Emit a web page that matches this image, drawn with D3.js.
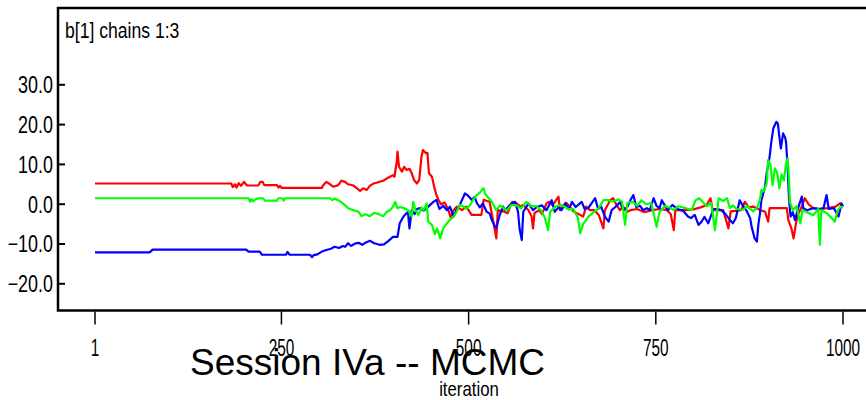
<!DOCTYPE html>
<html>
<head>
<meta charset="utf-8">
<script src="https://cdn.jsdelivr.net/npm/d3@7"></script>
<style>
  html, body { margin: 0; padding: 0; background: #fff; }
  svg { display: block; }
</style>
</head>
<body>
<svg id="chart" width="866" height="400"></svg>
<script>
// Trace of b[1] for three MCMC chains: [iteration, value]
const chain1 = [[1,5.2],[183,5.2],[185,4.3],[188,5.0],[190,4.2],[193,5.3],[196,4.6],[200,5.6],[204,4.7],[219,4.7],[222,5.6],[225,5.6],[227,4.8],[244,4.8],[246,4.2],[248,4.6],[250,4.1],[304,4.1],[306,4.8],[310,5.6],[315,5.0],[319,4.4],[326,4.8],[330,5.9],[335,5.6],[339,5.0],[346,4.7],[351,4.0],[355,3.3],[359,4.0],[364,3.6],[368,4.6],[373,5.2],[377,5.4],[382,5.7],[386,5.9],[391,6.5],[395,6.9],[399,7.3],[401,6.9],[404,10.7],[405,13.2],[407,9.4],[411,8.2],[414,9.4],[417,8.6],[421,8.9],[424,7.8],[427,6.1],[431,5.2],[434,6.1],[437,11.9],[439,13.6],[443,12.8],[445,12.9],[447,7.8],[451,6.9],[454,4.4],[457,2.3],[460,1.0],[463,0.0],[468,0.4],[473,-1.5],[476,-3.3],[480,-1.5],[484,-0.6],[491,-1.5],[497,-0.6],[504,-2.7],[517,-2.7],[520,1.1],[528,0.6],[535,-6.5],[537,-8.6],[539,-1.5],[546,-1.8],[552,-2.3],[558,0.6],[564,0.2],[569,-0.6],[573,-0.2],[580,-1.5],[584,-3.0],[586,-6.1],[588,-2.2],[594,-1.5],[598,-2.5],[604,0.2],[608,0.6],[612,-0.3],[620,1.9],[622,-1.5],[626,-0.6],[630,0.4],[635,-0.6],[640,-1.8],[645,-2.3],[653,-3.1],[657,-0.6],[662,-1.5],[668,-1.5],[674,-2.8],[680,-6.1],[682,-1.5],[689,1.0],[693,1.5],[697,0.0],[702,-1.5],[706,-0.6],[712,-1.9],[716,-1.5],[725,-1.2],[735,-2.0],[745,-1.5],[755,-1.2],[765,-1.5],[770,-2.5],[774,-6.5],[776,-1.5],[790,-1.5],[800,-1.3],[810,-0.8],[818,-0.2],[823,1.5],[826,-1.5],[840,-1.5],[843,-3.5],[847,-6.1],[850,-1.8],[864,-1.5],[869,0.6],[874,-0.8],[880,-0.6],[890,-1.5],[896,-1.9],[900,-4.4],[902,-1.0],[925,-1.0],[927,-4.0],[931,-6.0],[934,-8.6],[937,-5.0],[940,-2.5],[944,-1.0],[949,1.5],[954,0.0],[960,-1.0],[970,-1.2],[980,-1.0],[990,-0.6],[996,0.2],[1000,-0.5]];

const chain2 = [[1,-12.1],[74,-12.1],[78,-11.4],[203,-11.4],[206,-11.9],[221,-11.9],[224,-12.7],[256,-12.7],[258,-12.0],[261,-12.7],[288,-12.7],[291,-13.3],[293,-12.8],[298,-12.6],[304,-11.9],[310,-11.5],[316,-11.2],[321,-10.7],[327,-11.0],[332,-10.5],[335,-10.7],[339,-9.8],[343,-10.5],[348,-9.9],[353,-9.7],[358,-10.2],[363,-9.6],[368,-9.2],[374,-9.8],[381,-10.2],[387,-10.1],[393,-9.2],[399,-8.2],[405,-8.2],[408,-4.8],[413,-3.1],[417,-2.3],[419,-2.0],[421,-6.1],[424,-1.5],[428,-2.5],[431,-1.2],[435,-1.0],[440,-1.6],[446,-0.6],[453,0.6],[457,1.1],[461,-1.2],[466,-0.4],[471,-1.5],[475,-0.6],[480,-3.1],[484,-1.4],[488,-0.3],[495,2.7],[499,2.2],[504,1.1],[508,1.8],[511,0.3],[515,-0.8],[519,0.2],[524,-1.9],[528,-2.3],[531,-4.0],[535,-5.5],[537,-6.0],[541,-3.0],[546,-0.6],[549,-1.5],[555,-0.2],[562,0.6],[566,-1.9],[568,-6.1],[571,-9.0],[573,-1.9],[580,0.2],[586,-1.5],[591,-0.7],[598,-0.3],[604,-1.5],[611,1.0],[615,-1.9],[620,-0.8],[624,-1.5],[629,0.2],[634,-1.3],[638,0.6],[643,-0.7],[651,0.6],[655,-1.2],[660,-0.9],[669,1.5],[673,-1.2],[677,-0.6],[682,-3.1],[687,-4.4],[691,-1.5],[696,-0.7],[702,0.5],[707,-1.5],[712,-0.7],[716,1.0],[720,2.3],[724,-0.7],[729,-0.4],[733,-1.5],[738,-1.0],[742,-1.5],[747,1.5],[751,-0.4],[755,-1.0],[758,1.0],[762,-0.3],[766,-1.5],[772,-0.2],[780,-1.3],[786,-1.6],[793,-3.1],[797,-3.5],[802,-2.7],[807,-5.2],[811,-4.4],[815,-3.2],[820,-4.8],[827,-1.2],[833,-1.2],[838,-1.6],[843,-2.5],[849,-4.0],[853,-4.8],[857,-3.4],[862,1.0],[866,-0.3],[871,-1.6],[876,-3.5],[878,-5.7],[882,-8.6],[885,-9.4],[887,-5.0],[889,-2.5],[891,1.0],[896,4.4],[898,7.8],[902,11.9],[904,15.3],[907,19.1],[911,20.7],[913,20.3],[915,17.0],[917,14.0],[920,17.8],[923,16.6],[924,15.5],[926,9.4],[928,1.0],[930,-3.1],[933,-2.0],[936,-4.0],[940,-1.0],[945,1.9],[947,-1.0],[952,-1.5],[960,-1.0],[968,-1.2],[974,-1.0],[978,2.3],[981,-1.2],[988,-1.0],[994,-3.1],[998,0.2],[1000,-0.6]];

const chain3 = [[1,1.5],[206,1.5],[208,0.6],[210,1.3],[212,0.7],[215,1.2],[219,1.5],[225,1.5],[228,0.9],[244,0.9],[246,1.5],[251,1.5],[253,0.9],[255,1.5],[315,1.5],[318,1.0],[321,1.4],[326,1.0],[332,0.2],[339,-1.0],[346,-1.5],[353,-1.9],[357,-3.0],[362,-2.5],[368,-3.0],[374,-2.2],[380,-2.5],[386,-3.0],[391,-1.9],[395,-1.5],[399,-0.6],[402,0.6],[405,-1.0],[408,-0.7],[414,-1.0],[419,-1.5],[424,-3.1],[426,0.6],[429,-1.5],[433,-2.7],[437,-0.8],[440,-1.5],[444,0.2],[446,-4.4],[451,-5.2],[455,-7.5],[458,-6.1],[462,-8.6],[466,-6.1],[471,-4.8],[475,-3.9],[480,-3.1],[484,-1.9],[488,-0.2],[493,-0.6],[497,-1.2],[502,-0.2],[507,1.4],[511,2.3],[515,2.9],[518,3.6],[520,4.0],[522,2.6],[526,1.7],[531,0.6],[537,-1.5],[542,-0.3],[551,-1.6],[557,-0.2],[564,-0.3],[570,-1.1],[577,0.6],[584,-0.5],[591,-0.5],[597,-1.6],[602,-3.5],[606,-6.5],[609,-1.8],[617,-0.5],[624,-0.2],[633,-1.2],[640,-1.2],[646,-3.5],[649,-7.3],[653,-5.0],[660,-3.1],[667,-2.0],[673,-1.2],[680,1.0],[687,1.0],[693,0.6],[700,1.2],[705,0.6],[709,-5.2],[712,0.3],[719,0.6],[725,-0.4],[731,1.0],[737,0.0],[744,0.3],[751,-5.7],[755,-1.9],[762,-0.5],[768,-0.8],[774,-1.5],[780,-0.5],[790,-1.0],[798,-1.5],[803,1.0],[808,1.5],[813,0.5],[818,-0.5],[824,0.3],[829,-6.5],[834,1.5],[840,0.8],[845,1.5],[849,-1.0],[853,-0.3],[858,-1.2],[866,-1.4],[872,-0.5],[880,-1.8],[885,-1.0],[889,1.0],[891,3.6],[894,3.2],[898,5.2],[900,11.1],[903,10.0],[906,4.8],[909,9.0],[912,8.0],[915,4.0],[918,7.5],[921,6.0],[924,10.3],[926,11.5],[928,6.0],[929,0.6],[933,-1.5],[938,-0.5],[943,-4.8],[946,-1.5],[952,-2.0],[960,-2.8],[967,-1.2],[969,-10.2],[971,-1.5],[978,-2.2],[985,-3.5],[989,-4.4],[993,-1.5],[997,-0.6],[1000,-0.8]];

const chainColors = ["#ff0000", "#0000ff", "#00ff00"];
const xTicks = [1, 250, 500, 750, 1000];
const yTicks = [-20, -10, 0, 10, 20, 30];
const plotTitle = "b[1] chains 1:3";
const xLabel = "iteration";
const slideTitle = "Session IVa -- MCMC";

const svg = d3.select("#chart");
const W = 866;
const FONT = "Liberation Sans, Arial, sans-serif";

// Condensed text: draw at (tx, ty) and squeeze horizontally by sx
function condensed(parent, tx, ty, str, size, sx, anchor) {
  return parent.append("g")
    .attr("transform", `translate(${tx},${ty}) scale(${sx},1)`)
    .append("text")
    .attr("font-family", FONT)
    .attr("font-size", size)
    .attr("text-anchor", anchor || "start")
    .text(str);
}

// Frame and scales
const frame = { left: 58, top: 8, bottom: 310.5 };
const x = d3.scaleLinear().domain([1, 1000]).range([95, 843]);
const y = d3.scaleLinear().domain([-20, 30]).range([283.8, 84.8]);

// Axes frame: left, top and bottom rules (open on the right)
svg.append("path")
  .attr("d", `M${W + 5},${frame.top} H${frame.left} V${frame.bottom} H${W + 5}`)
  .attr("fill", "none").attr("stroke", "#000").attr("stroke-width", 2.5);

// Chain traces
const line = d3.line().x(d => x(d[0])).y(d => y(d[1]));
[chain1, chain2, chain3].forEach((c, i) => {
  svg.append("path")
    .datum(c)
    .attr("d", line)
    .attr("fill", "none")
    .attr("stroke", chainColors[i])
    .attr("stroke-width", 2.2)
    .attr("stroke-linejoin", "round");
});

// Y axis ticks (pointing inward) and labels
const yAxis = svg.append("g");
yAxis.selectAll("line").data(yTicks).join("line")
  .attr("x1", frame.left).attr("x2", frame.left + 7)
  .attr("y1", d => y(d)).attr("y2", d => y(d))
  .attr("stroke", "#000").attr("stroke-width", 2);
yTicks.forEach(d => condensed(yAxis, frame.left - 5, y(d) + 8.3, d3.format(".1f")(d), 23, 0.78, "end"));

// X axis ticks (below the frame) and labels
const xAxis = svg.append("g");
xAxis.selectAll("line").data(xTicks).join("line")
  .attr("x1", d => x(d)).attr("x2", d => x(d))
  .attr("y1", frame.bottom + 1).attr("y2", frame.bottom + 14)
  .attr("stroke", "#000").attr("stroke-width", 1.5);
xTicks.forEach(d => condensed(xAxis, x(d), 356, String(d), 24, 0.64, "middle"));

// Plot title inside the frame
condensed(svg, 65, 38, plotTitle, 22, 0.8);

// Axis label
condensed(svg, (x(1) + x(1000)) / 2, 396, xLabel, 20, 0.84, "middle");

// Slide heading overlaid at the bottom
svg.append("text")
  .attr("x", 190).attr("y", 375)
  .attr("font-family", FONT)
  .attr("font-size", 37)
  .text(slideTitle);
</script>
</body>
</html>
